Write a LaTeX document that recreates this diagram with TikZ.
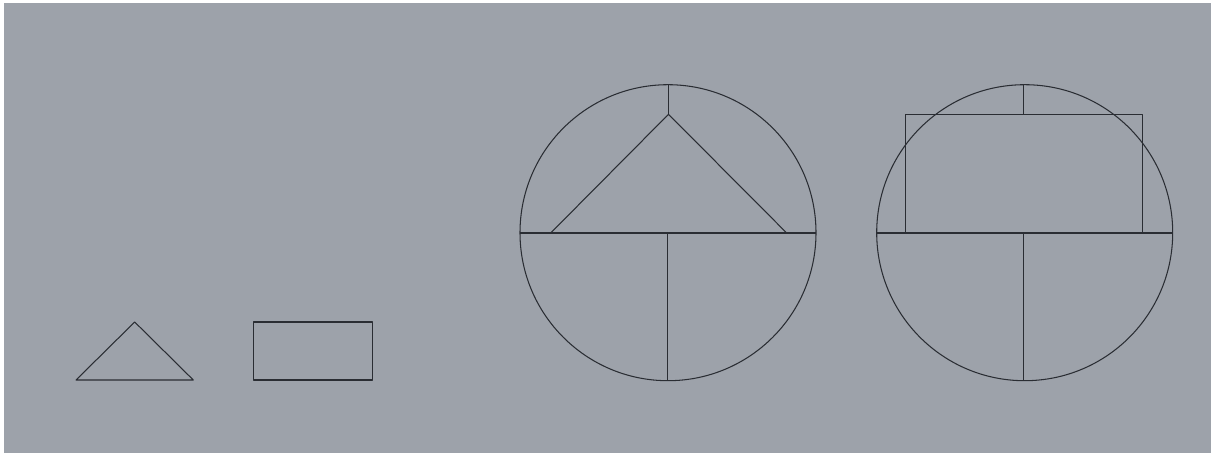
\documentclass[tikz,border=0pt]{standalone}
\usepackage{xcolor}
\usepackage{tikz}
\usetikzlibrary{calc}
\definecolor{bg}{HTML}{9DA2AA}
\definecolor{ink}{HTML}{2A2D33}
\tikzset{
  edge/.style={draw=ink, line width=0.6pt, line join=round},
}
\begin{document}
\begin{tikzpicture}[x=0.02cm, y=-0.02cm]
  \useasboundingbox (0,0) rectangle (1211,453);
  \fill[white] (0,0) rectangle (1211,453);
  \fill[bg] (4,3) rectangle (1211,453);
  % small shapes
  \draw[edge] (76,380) -- (134.7,322) -- (193.3,380) -- cycle;
  \draw[edge] (253.3,322) rectangle (372.3,380);
  % left circle with triangle
  \coordinate (c1) at (668,232.7);
  \draw[edge] (c1) circle[radius=148];
  \draw[edge] ($(c1)+(-148,0.3)$) -- ($(c1)+(148,0.3)$);
  \draw[edge] (550.7,233) -- (668.5,114.3) -- (786.7,233);
  \draw[edge] (668.5,84.7) -- (668.5,114.3);
  \draw[edge] (667.8,233) -- (667.8,380.7);
  % right circle with rectangle
  \coordinate (c2) at (1024.7,232.7);
  \draw[edge] (c2) circle[radius=148];
  \draw[edge] ($(c2)+(-148,0.3)$) -- ($(c2)+(148,0.3)$);
  \draw[edge] (905.3,233) rectangle (1142.7,114.3);
  \draw[edge] (1023.8,84.7) -- (1023.8,114.3);
  \draw[edge] (1023.8,233) -- (1023.8,380.7);
\end{tikzpicture}
\end{document}
